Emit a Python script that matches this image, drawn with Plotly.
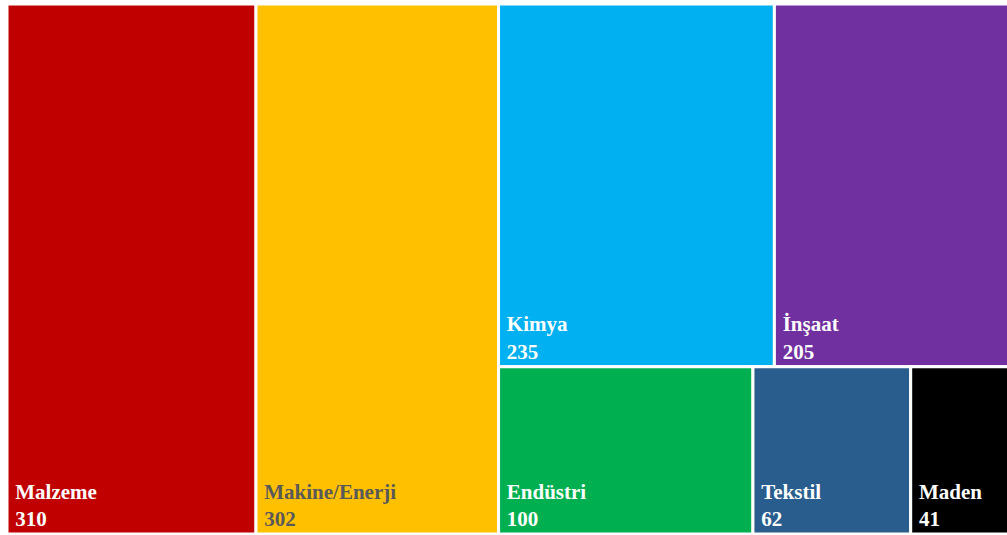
import plotly.graph_objects as go

# Data
labels = ["Malzeme", "Makine/Enerji", "Kimya", "İnşaat", "Endüstri", "Tekstil", "Maden"]
values = [310, 302, 235, 205, 100, 62, 41]
colors = ["#C00000", "#FFC000", "#00B0F0", "#7030A0", "#00B050", "#285D8E", "#000000"]
text_colors = ["white", "#595959", "white", "white", "white", "white", "white"]

# Hidden grouping to reproduce the layout (columns, then rows)
group_of = ["", "", "top", "top", "bot", "bot", "bot"]

top_sum = sum(v for v, g in zip(values, group_of) if g == "top")
bot_sum = sum(v for v, g in zip(values, group_of) if g == "bot")

NB = "\u00a0"
ids = ["rest", "top", "bot"] + labels
parents = ["", "rest", "rest"] + ["" if g == "" else g for g in group_of]
vals = [top_sum + bot_sum, top_sum, bot_sum] + values
node_labels = ["", "", ""] + labels
node_text = ["", "", ""] + [f"<b>{NB}{l}</b><br><b>{NB}{v}</b>" for l, v in zip(labels, values)]
node_colors = ["white", "white", "white"] + colors
node_tcolors = ["white", "white", "white"] + text_colors

# order: Malzeme, Makine, rest
order = [3, 4, 0, 1, 2, 5, 6, 7, 8, 9]
ids = [ids[i] for i in order]
parents = [parents[i] for i in order]
vals = [vals[i] for i in order]
node_labels = [node_labels[i] for i in order]
node_text = [node_text[i] for i in order]
node_colors = [node_colors[i] for i in order]
node_tcolors = [node_tcolors[i] for i in order]

fig = go.Figure(go.Treemap(
    ids=ids,
    parents=parents,
    values=vals,
    labels=node_labels,
    text=node_text,
    textinfo="text",
    branchvalues="total",
    sort=False,
    tiling=dict(packing="slice-dice", pad=0),
    marker=dict(colors=node_colors, line=dict(color="white", width=3),
                pad=dict(t=0, l=0, r=0, b=0)),
    textposition="bottom left",
    textfont=dict(family="Liberation Serif", size=21, color=node_tcolors),
    pathbar=dict(visible=False),
    hoverinfo="skip",
))

fig.update_layout(
    width=1015, height=535,
    margin=dict(l=7, r=0, t=4, b=1),
    paper_bgcolor="white",
    showlegend=False,
)

fig.write_html(
    "out.html",
    post_script="document.documentElement.style.overflow='hidden';document.body.style.overflow='hidden';document.body.style.margin='0';",
)
